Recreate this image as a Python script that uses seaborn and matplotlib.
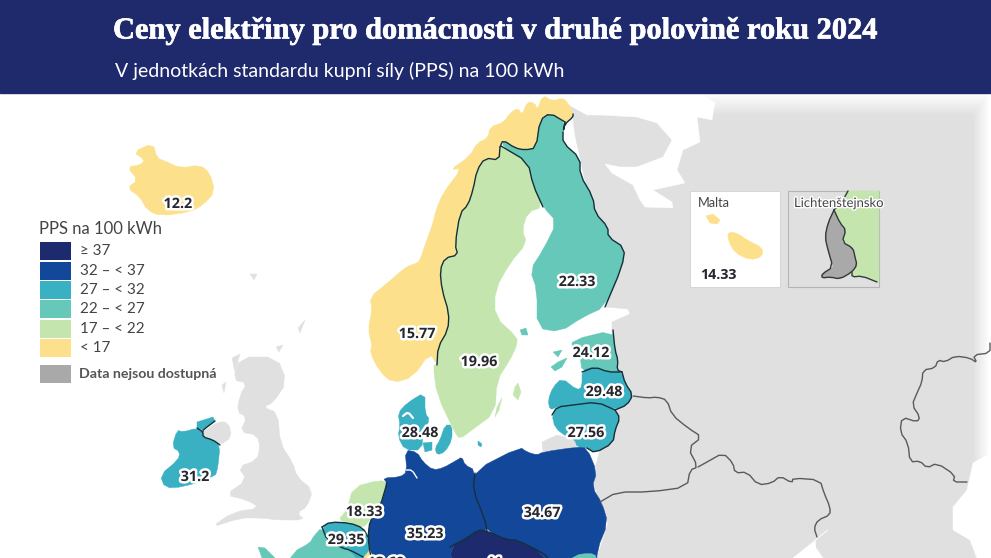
import numpy as np
import matplotlib
matplotlib.use("Agg")
import matplotlib.pyplot as plt
import matplotlib.patheffects as pe
from matplotlib.patches import Rectangle
import seaborn as sns

sns.set_theme(style="white")
plt.rcParams['font.family'] = ['Lato', 'DejaVu Sans']

TITLE = "Ceny elektřiny pro domácnosti v druhé polovině roku 2024"
SUBTITLE = "V jednotkách standardu kupní síly (PPS) na 100 kWh"
LEGEND_TITLE = "PPS na 100 kWh"
bin_labels = ["≥ 37", "32 – < 37", "27 – < 32", "22 – < 27", "17 – < 22", "< 17"]
bin_colors = ["#1d2a6e", "#12479a", "#3ab0c3", "#66c8b8", "#c4e6ae", "#fde08c"]
bin_edges = [17, 22, 27, 32, 37]
NA_LABEL = "Data nejsou dostupná"
NA_COLOR = "#a9a9a9"
LAND = "#e0e0e0"
BAND = "#1f2a6d"
BORDER = "#16303a"

# country values (tops of the last labels are cut by the picture's edge)
values = dict(IS=12.2, NO=15.77, SE=19.96, FI=22.33, EE=24.12, LV=29.48, LT=27.56, DK=28.48,
              IE=31.2, NL=18.33, BE=29.35, DE=35.23, PL=34.67, CZ=41, LU=13.69, FR=25.0,
              SK=24.0, MT=14.33, CH=19.0)


def colour(v):
    return bin_colors[::-1][int(np.digitize(v, bin_edges))]


# borders, in picture coordinates of the map
b_no_se = [(437, 365), (438, 347), (448, 330), (449, 313), (442, 290), (440, 270), (445, 258), (458, 255),
           (455, 245), (460, 213), (468, 205), (473, 190), (477, 170), (485, 158), (499, 160), (500, 147)]
b_no_fi = [(500, 147), (503, 140), (515, 148), (525, 150), (536, 148), (540, 120), (550, 113), (565, 122)]
b_no_ru = [(565, 122), (563, 132), (565, 124), (573, 117), (573, 114)]
b_se_fi = [(501, 146), (528, 162), (533, 185), (543, 207)]
b_fi_ru = [(563, 132), (563, 143), (580, 158), (580, 175), (593, 197), (595, 213), (608, 227), (608, 237),
           (625, 248), (622, 267), (605, 307)]
b_ee_ru = [(613, 330), (615, 350), (618, 360), (617, 370), (622, 372)]
b_ee_lv = [(582, 372), (595, 367), (608, 372), (622, 372)]
b_lv_ru = [(622, 372), (625, 383), (633, 395), (627, 405), (615, 410)]
b_lv_lt = [(552, 415), (557, 407), (573, 405), (597, 402), (615, 410)]
b_lt_by = [(615, 410), (620, 418), (615, 430), (613, 443), (595, 453), (587, 448)]
b_de_pl = [(475, 473), (473, 490), (485, 520), (487, 531)]
b_cz_n = [(450, 547), (467, 538), (478, 530), (487, 531), (507, 540), (517, 540), (543, 553), (548, 558)]
b_de_w = [(387, 483), (380, 507), (370, 520), (368, 537), (370, 553), (372, 558)]
b_be_n = [(322, 527), (330, 522), (350, 523), (363, 528), (368, 537)]
b_be_s = [(322, 527), (327, 540), (342, 548), (350, 550), (363, 557)]
b_ie_ni = [(197, 428), (203, 432), (203, 437), (213, 440), (220, 445)]
b_ie_ni2 = [(215, 421), (203, 430), (203, 432)]
b_by_e = [(633, 396), (648, 398), (657, 397), (667, 400), (672, 415), (688, 428), (702, 437), (688, 448),
          (698, 467), (690, 470), (687, 487), (650, 492), (617, 492), (600, 502)]
b_ua_n = [(698, 467), (707, 462), (723, 453), (733, 463), (735, 473), (747, 472), (758, 485), (772, 483), (780, 476),
          (792, 483), (793, 478), (820, 480), (824, 493), (830, 507), (830, 515), (818, 520), (814, 528), (817, 537)]
b_far_e = [(990, 343), (990, 353), (973, 355), (977, 363), (970, 358), (955, 356), (945, 362), (938, 360), (935, 368),
           (923, 370), (922, 382), (917, 393), (912, 405), (920, 417), (917, 422), (902, 417), (900, 432), (908, 443),
           (910, 462), (920, 461), (927, 468), (937, 463), (955, 475), (953, 482), (967, 482)]

# shapes
land = [(560, 93), (991, 93), (991, 558), (597, 558), (608, 523), (592, 480), (600, 450), (612, 400), (612, 322),
        (630, 314), (628, 309), (606, 307), (600, 250), (575, 135), (572, 112)]
sea_north = [(540, 93), (700, 93), (715, 103), (712, 120), (697, 117), (700, 142), (683, 150), (677, 170), (685, 183),
             (653, 190), (672, 202), (673, 208), (645, 207), (640, 200), (633, 185), (612, 173), (605, 164), (620, 167),
             (637, 167), (663, 157), (672, 140), (657, 123), (637, 117), (600, 115), (587, 115), (578, 110), (560, 100)]
sea_black = [(991, 453), (973, 463), (967, 490), (953, 507), (953, 530), (970, 540), (977, 558), (991, 558)]
sea_gulf = [(828, 530), (793, 558), (823, 558), (816, 548), (815, 540)]
gb = [(240, 357), (277, 357), (287, 382), (273, 403), (263, 407), (278, 413), (280, 443), (293, 463), (297, 477),
      (313, 490), (307, 507), (297, 513), (305, 520), (277, 520), (262, 518), (240, 518), (210, 528), (233, 512),
      (260, 508), (247, 500), (225, 495), (247, 480), (238, 467), (257, 460), (260, 447), (257, 435), (240, 432),
      (247, 417), (237, 412), (240, 395), (247, 383), (233, 380)]
gb_isles = [[(250, 274), (257, 274), (254, 280)], [(305, 320), (300, 333), (298, 328)], [(276, 347), (283, 345), (279, 352)],
            [(232, 358), (240, 354), (235, 372)], [(222, 385), (226, 382), (224, 393)]]
ni = [(203, 432), (217, 422), (228, 422), (232, 437), (220, 445), (213, 440), (203, 437)]
kaliningrad = [(542, 442), (557, 435), (575, 440), (577, 447), (543, 452)]

iceland = [(133, 152), (153, 143), (157, 158), (165, 161), (180, 168), (200, 165), (210, 173), (215, 192), (203, 205),
           (190, 212), (160, 216), (147, 210), (140, 197), (127, 188), (138, 180), (127, 167), (140, 165), (145, 160)]
norway = [(573, 114), (568, 103), (563, 98), (552, 101), (543, 95), (537, 110), (535, 103), (527, 102), (522, 115), (518, 108),
          (510, 113), (504, 122), (490, 127), (488, 138), (477, 143), (470, 156), (450, 170), (462, 168), (443, 193), (436, 210),
          (433, 223), (425, 245), (420, 260), (417, 263), (408, 266), (400, 272), (385, 285), (370, 297), (372, 310), (368, 330),
          (372, 345), (370, 353), (380, 372), (393, 383), (413, 377), (430, 353)] + b_no_se + b_no_fi + b_no_ru
sweden = b_no_se + [(503, 147)] + b_se_fi[1:] + [(528, 212), (522, 230), (527, 243), (510, 263), (495, 290), (495, 317),
          (517, 337), (517, 345), (510, 360), (497, 380), (495, 413), (472, 430), (460, 439), (455, 433), (437, 395), (433, 365)]
gotland = [(518, 383), (521, 392), (518, 400), (513, 395), (515, 387)]
oland = [(502, 398), (499, 410), (495, 417), (497, 407)]
finland = [(503, 140), (515, 148), (525, 150), (536, 148), (540, 120), (550, 113), (565, 122), (563, 132)] + b_fi_ru[1:] + \
          [(583, 317), (560, 332), (537, 328), (537, 290), (530, 270), (543, 250), (557, 222), (543, 207), (533, 185), (528, 162), (503, 147)]
aland = [(520, 330), (526, 328), (528, 335), (522, 335)]
estonia = [(572, 340), (613, 330), (615, 350), (618, 360), (617, 370), (622, 372), (608, 372), (595, 367), (582, 372), (580, 355), (572, 350)]
saaremaa = [(551, 367), (558, 362), (567, 358), (562, 367), (555, 371)]
hiiumaa = [(553, 352), (562, 350), (558, 357)]
latvia = [(550, 410), (548, 400), (553, 387), (562, 378), (577, 390), (582, 387), (582, 370), (595, 367), (608, 372), (622, 372),
          (625, 383), (633, 395), (627, 405), (615, 410), (597, 402), (573, 405), (557, 407)]
lithuania = [(552, 415), (557, 407), (573, 405), (597, 402), (615, 410), (620, 418), (615, 430), (613, 443), (595, 453), (587, 448),
             (577, 447), (575, 440), (567, 437), (555, 428)]
poland = [(475, 470), (520, 447), (527, 452), (537, 455), (543, 452), (577, 447), (587, 448), (597, 472), (592, 487), (602, 503),
          (608, 523), (597, 550), (597, 558), (548, 558), (543, 553), (517, 540), (507, 540), (487, 531), (485, 520), (473, 490)]
czech = [(450, 547), (467, 538), (478, 530), (487, 531), (507, 540), (517, 540), (543, 553), (548, 558), (453, 558)]
germany = [(405, 450), (417, 452), (423, 462), (433, 470), (443, 468), (457, 460), (462, 457), (465, 465), (475, 470), (473, 490),
           (485, 520), (487, 531), (478, 530), (467, 538), (450, 547), (453, 558), (372, 558), (370, 553), (368, 537), (370, 520),
           (380, 507), (387, 483), (383, 478), (400, 477), (407, 472)]
netherlands = [(353, 487), (380, 480), (387, 483), (380, 507), (370, 520), (363, 528), (350, 523), (338, 520), (347, 510)]
belgium = [(322, 527), (330, 522), (350, 523), (363, 528), (368, 537), (370, 553), (363, 557), (350, 550), (342, 548), (327, 540)]
luxemb = [(364, 557), (370, 550), (373, 558), (364, 558)]
france = [(285, 558), (293, 552), (310, 543), (313, 537), (322, 527), (327, 540), (342, 548), (350, 550), (363, 557), (364, 558)]
brittany = [(258, 547), (265, 548), (270, 553), (275, 558), (262, 558)]
slovakia = [(546, 558), (551, 554), (556, 557), (575, 555), (590, 553), (597, 556), (598, 558)]
jutland = [(398, 413), (407, 403), (425, 392), (425, 413), (430, 420), (423, 430), (422, 450), (405, 450), (398, 437), (400, 425)]
zealand = [(440, 440), (445, 425), (452, 425), (452, 440), (445, 452), (437, 455), (435, 448)]
funen = [(423, 443), (432, 442), (432, 450), (425, 452)]
bornholm = [(478, 441), (482, 444), (481, 447), (478, 445)]
ireland = [(177, 430), (183, 432), (197, 428), (203, 432), (203, 437), (213, 440), (220, 445), (218, 467), (215, 477), (183, 487),
           (165, 488), (160, 475), (178, 460), (180, 452), (172, 447)]
donegal = [(197, 422), (213, 417), (215, 421), (203, 430), (197, 428)]
malta = [(728, 232), (737, 233), (747, 240), (763, 248), (762, 257), (750, 260), (735, 253), (728, 240)]
gozo = [(706, 216), (713, 214), (720, 220), (717, 224), (710, 223)]
li = [(834, 210), (840, 223), (846, 230), (842, 242), (853, 248), (855, 257), (857, 265), (852, 272), (840, 279), (830, 277),
      (822, 278), (822, 274), (833, 267), (828, 250), (825, 237), (828, 223)]
ch_side = [(848, 191), (843, 200), (834, 210), (840, 223), (846, 230), (842, 242), (853, 248), (855, 257), (857, 265), (852, 272),
           (852, 277), (862, 276), (877, 282), (879, 282), (879, 191)]

labels = [("12.2", 178, 204), ("15.77", 417, 334), ("19.96", 479, 362), ("22.33", 577, 282), ("24.12", 591, 353),
          ("29.48", 604, 392), ("27.56", 586, 433), ("28.48", 420, 433), ("31.2", 195, 477), ("18.33", 364, 512),
          ("29.35", 346, 540), ("35.23", 425, 534), ("34.67", 542, 513), ("13.69", 386, 563), ("41", 494, 563)]

fig = plt.figure(figsize=(9.91, 5.58), dpi=100)
ax = fig.add_axes([0, 0, 1, 1])
ax.set_xlim(0, 991)
ax.set_ylim(558, 0)
ax.axis("off")


def round_closed(pts, n=1):
    a = np.array(pts, float)
    a[a[:, 1] >= 557, 1] += 14  # run shapes past the picture's lower edge
    for _ in range(n):
        b = np.roll(a, -1, axis=0)
        a = np.column_stack([0.75 * a + 0.25 * b, 0.25 * a + 0.75 * b]).reshape(-1, 2)
    return a


def round_open(pts, n=1):
    a = np.array(pts, float)
    for _ in range(n):
        q = 0.75 * a[:-1] + 0.25 * a[1:]
        r = 0.25 * a[:-1] + 0.75 * a[1:]
        m = np.column_stack([q, r]).reshape(-1, 2)
        a = np.vstack([a[:1], m, a[-1:]])
    return a


def shape(pts, color, z=2, smooth=True):
    a = round_closed(pts) if smooth and len(pts) >= 7 else np.array(pts, float)
    ax.fill(a[:, 0], a[:, 1], color=color, lw=0.3, zorder=z)


def line(pts, color=BORDER, lw=1.0, z=5):
    a = round_open(pts, 1)
    sns.lineplot(x=a[:, 0], y=a[:, 1], sort=False, estimator=None, color=color, lw=lw, ax=ax, zorder=z, legend=False)


shape(land, LAND, 1, smooth=False)
for s in (sea_north, sea_black, sea_gulf):
    shape(s, "white", 1.2, smooth=False)

# soft fade of the land at the top and the right
h, w = 558, 991
fade = np.zeros((h, w, 4))
fade[..., :3] = 1
xx, yy = np.meshgrid(np.arange(w), np.arange(h))
a_top = np.clip((115 - yy) / 22, 0, 1) * (xx > 695)
a_right = np.clip((xx - 972) / 17, 0, 1)
fade[..., 3] = np.maximum(a_top, a_right)
ax.imshow(fade, extent=(0, 991, 558, 0), zorder=1.5, aspect="auto")
ax.set_xlim(0, 991)
ax.set_ylim(558, 0)

shape(gb, LAND)
for s in gb_isles:
    shape(s, LAND)
shape(ni, LAND)
shape(kaliningrad, LAND, smooth=False)

for key, parts in dict(IS=[iceland], NO=[norway], SE=[sweden, gotland, oland], FI=[finland, aland],
                       EE=[estonia, saaremaa, hiiumaa], LV=[latvia], LT=[lithuania], PL=[poland], CZ=[czech],
                       DE=[germany], NL=[netherlands], BE=[belgium], LU=[luxemb], FR=[france, brittany],
                       SK=[slovakia], DK=[jutland, zealand, funen, bornholm], IE=[ireland, donegal]).items():
    for p in parts:
        shape(p, colour(values[key]), 3)

# fjords cut in Jutland and the gap at the Elbe
line([(403, 416), (408, 412), (413, 418)], "white", 1.6, 4)
line([(406, 470), (412, 470), (417, 478)], "white", 1.0, 4)

for b in (b_no_se, b_no_fi, b_no_ru, b_se_fi, b_fi_ru, b_ee_ru, b_ee_lv, b_lv_ru, b_lv_lt, b_lt_by,
          b_de_pl, b_cz_n, b_de_w, b_be_n, b_be_s, b_ie_ni, b_ie_ni2):
    line(b)
for b in (b_by_e, b_ua_n, b_far_e):
    line(b, "#555b5e", 1.0)

halo = [pe.withStroke(linewidth=3.6, foreground="white")]
for txt, x, y in labels:
    t = ax.text(x, y, txt, ha="center", va="center", fontsize=10.3, fontweight="bold", color="#26262e",
                family=["Open Sans", "DejaVu Sans"], zorder=8, clip_on=True)
    t.set_path_effects(halo)

# header band
ax.add_patch(Rectangle((0, 0), 991, 93, color=BAND, zorder=10))
title = ax.text(113, 31, TITLE, color="white", fontsize=21.9, fontweight="bold", va="center", ha="left",
                family=["Liberation Serif"], zorder=11)
title.set_path_effects([pe.withStroke(linewidth=0.5, foreground="white")])
ax.text(115, 71, SUBTITLE, color="white", fontsize=14, va="center", ha="left", zorder=11)

# legend
ax.text(39, 229, LEGEND_TITLE, color="#444444", fontsize=12, va="center", ha="left", zorder=9)
swatch_y = [242, 262, 281, 300, 320, 339]
for lab, c, y in zip(bin_labels, bin_colors, swatch_y):
    ax.add_patch(Rectangle((40, y), 31, 18, facecolor=c, edgecolor="none", zorder=9))
    ax.text(80, y + 9, lab, color="#444444", fontsize=10.9, va="center", ha="left", zorder=9)
ax.add_patch(Rectangle((40, 365), 31, 18, facecolor=NA_COLOR, edgecolor="none", zorder=9))
ax.text(79, 374, NA_LABEL, color="#555555", fontsize=10.2, fontweight="bold", va="center", ha="left", zorder=9)

# insets
ax.add_patch(Rectangle((690, 191), 90, 96, facecolor="white", edgecolor="#d2d2d2", lw=0.6, zorder=6))
ax.text(698, 203, "Malta", color="#444444", fontsize=9.2, va="center", ha="left", zorder=7)
shape(malta, colour(values["MT"]), 7)
shape(gozo, colour(values["MT"]), 7)
ax.text(718, 275, "14.33", color="#26262e", fontsize=10.3, fontweight="bold", ha="center", va="center",
        family=["Open Sans", "DejaVu Sans"], zorder=8)

ax.add_patch(Rectangle((788, 191), 91, 96, facecolor=LAND, edgecolor="#b5b5b5", lw=0.8, zorder=6))
shape(ch_side, colour(values["CH"]), 6.5, smooth=False)
shape(li, NA_COLOR, 6.6, smooth=False)
line(li + li[:1], "#333a3c", 1.0, 7)
line([(848, 191), (843, 200), (834, 210)], "#333a3c", 1.0, 7)
line([(852, 272), (852, 277), (862, 276), (877, 282)], "#333a3c", 1.0, 7)
t = ax.text(794, 203, "Lichtenštejnsko", color="#444444", fontsize=9.4, va="center", ha="left", zorder=8)
t.set_path_effects([pe.withStroke(linewidth=2, foreground="white")])

ax.set_xlim(0, 991)
ax.set_ylim(558, 0)
fig.savefig("out.png", dpi=100)
